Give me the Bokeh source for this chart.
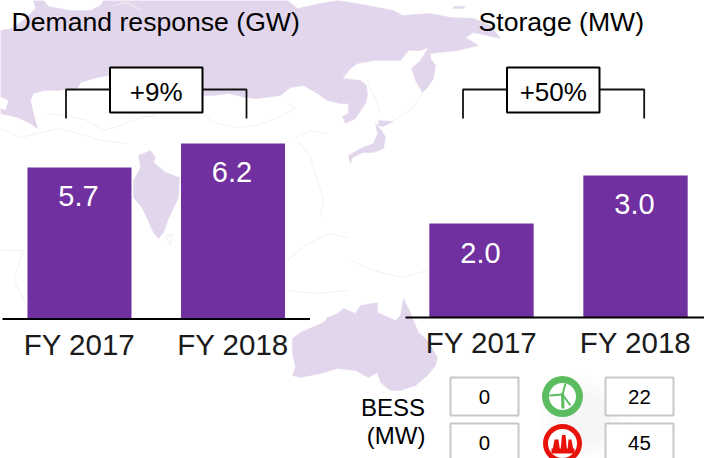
from bokeh.plotting import figure
from bokeh.embed import file_html
from bokeh.resources import INLINE
from bokeh.models import Range1d, ColumnDataSource
from bokeh.core.properties import value

# ---- data -----------------------------------------------------------------
years = ["FY 2017", "FY 2018"]
demand_gw = [5.7, 6.2]
storage_mw = [2.0, 3.0]
demand_labels = ["5.7", "6.2"]
storage_labels = ["2.0", "3.0"]
title_left = "Demand response (GW)"
title_right = "Storage (MW)"
growth_left = "+9%"
growth_right = "+50%"
bess_before = ["0", "0"]
bess_after = ["22", "45"]

# ---- traced background map, in picture pixels ------------------------------
russia_x = [0, 12, 25, 35, 33, 43, 48, 70, 90, 100, 103, 287, 297, 320, 337, 356, 393, 402, 430, 450, 473, 490,
            500, 473, 465, 478, 457, 430, 430, 435, 433, 427, 422, 415, 411, 420, 428, 420, 408, 400, 373, 357,
            350, 342, 360, 366, 367, 365, 355, 345, 342, 348, 348, 340, 327, 317, 303, 290, 280, 257, 245, 228,
            213, 203, 150, 108, 93, 80, 77, 57, 43, 33, 30, 33, 37, 30, 17, 0, 0, 5, 8, 0]
russia_y = [30, 28, 18, 8, 0, 0, 6, 10, 10, 5, 0, 0, 8, 3, 0, 3, 10, 15, 13, 17, 18, 25,
            38, 32, 37, 45, 50, 53, 58, 65, 78, 87, 92, 80, 68, 60, 47, 50, 50, 60, 60, 63,
            68, 78, 80, 85, 95, 103, 118, 123, 116, 113, 103, 103, 100, 93, 85, 87, 95, 98, 97, 93,
            95, 95, 90, 75, 78, 82, 88, 90, 90, 93, 100, 113, 128, 123, 117, 113, 108, 110, 100, 96]
india_x = [138, 150, 155, 153, 165, 179, 178, 168, 163, 158, 153, 142, 133, 133, 140]
india_y = [155, 150, 157, 162, 172, 177, 197, 218, 232, 238, 232, 208, 197, 180, 167]
australia_x = [292, 300, 323, 327, 337, 343, 355, 360, 377, 377, 395, 400, 403, 408, 412, 418, 427, 437, 435,
               427, 415, 400, 390, 380, 377, 368, 355, 337, 320, 300, 292, 295, 292]
australia_y = [338, 332, 322, 317, 313, 308, 313, 305, 302, 312, 320, 315, 298, 308, 318, 332, 340, 357, 365,
               375, 385, 390, 390, 382, 372, 377, 370, 368, 373, 377, 375, 367, 353]
honshu_x = [375, 382, 385, 383, 373, 363, 352, 350, 348, 360, 373, 377]
honshu_y = [123, 131, 137, 148, 152, 152, 157, 163, 155, 148, 143, 133]
hokkaido_x = [378, 393, 383, 378]
hokkaido_y = [120, 121, 126, 125]
island_x = [453, 465, 462, 453]
island_y = [6, 6, 8, 8]
border_xs = [[47, 67, 87, 103, 120, 140, 155], [0, 20, 40, 57, 75, 100, 127],
             [203, 213, 237, 257, 277, 295, 287], [295, 310, 327], [297, 310, 317, 323, 320],
             [287, 307, 330, 347], [287, 317, 347], [350, 373, 400, 427], [0, 23, 13, 27],
             [367, 377, 380], [422, 412, 393], [113, 125, 140], [165, 172, 170, 165]]
border_ys = [[113, 115, 120, 130, 125, 117, 115], [128, 137, 132, 128, 132, 140, 143],
             [113, 122, 127, 125, 117, 108, 103], [137, 130, 133], [140, 157, 180, 200, 217],
             [260, 243, 233, 237], [290, 293, 290], [260, 270, 277, 270], [250, 250, 280, 307],
             [80, 103, 113], [93, 108, 120], [5, 2, 9], [236, 234, 245, 236]]

FONT = value("Liberation Sans")
LAND = "#E2D6EC"
BAR = "#7030A0"

# ---- picture-pixel base scale, plus one value scale per panel --------------
W0, W1, H0, H1 = 0, 704, 0, 458
p = figure(width=W1 - W0, height=H1 - H0, x_range=Range1d(W0, W1), y_range=Range1d(H1, H0),
           output_backend="svg", toolbar_location=None, min_border=0,
           background_fill_color="white", outline_line_color=None)
p.axis.visible = False
p.grid.visible = False

PX_PER_UNIT = 48.0
def y_scale(ref_val, ref_px):
    return Range1d(ref_val + (ref_px - H1) / PX_PER_UNIT, ref_val + (ref_px - H0) / PX_PER_UNIT)
def x_scale(first, step):
    return Range1d((W0 - first) / step, (W1 - first) / step)

p.extra_y_ranges = {"left": y_scale(6.2, 143), "right": y_scale(3.0, 175)}
p.extra_x_ranges = {"left": x_scale(79, 153.5), "right": x_scale(481, 154)}

# map
p.patches([russia_x, india_x, australia_x, honshu_x, hokkaido_x, island_x],
          [russia_y, india_y, australia_y, honshu_y, hokkaido_y, island_y],
          fill_color=LAND, line_color=LAND, line_width=0.5)
p.multi_line(border_xs, border_ys, line_color="#F1F1F4", line_width=1)

# soft shadow behind the icons
for r, a in [(44, 0.008), (36, 0.012), (28, 0.014)]:
    p.circle(x=[582], y=[418], radius=r, fill_color="black", fill_alpha=a, line_color=None)

# bars
def panel(name, vals, labels, label_px, year_px, base_px, ref_val, ref_px, axis_from, axis_to):
    idx = list(range(len(vals)))
    base = ref_val + (ref_px - base_px) / PX_PER_UNIT
    src = ColumnDataSource(dict(i=idx, v=vals, b=[base] * len(vals), t=labels))
    p.vbar(x="i", top="v", bottom="b", width=104 / 153.5, source=src, x_range_name=name, y_range_name=name,
           fill_color=BAR, line_color=None)
    p.segment([axis_from], [base_px], [axis_to], [base_px], line_color="black", line_width=2)
    y_lab = [ref_val + (ref_px - q) / PX_PER_UNIT for q in label_px]
    y_yr = [ref_val + (ref_px - year_px) / PX_PER_UNIT] * len(vals)
    p.text(x=idx, y=y_lab, text=labels, x_range_name=name, y_range_name=name, text_font=FONT,
           text_font_size="29px", text_color="white", text_align="center", text_baseline="middle",
           x_offset=-1)
    p.text(x=idx, y=y_yr, text=years, x_range_name=name, y_range_name=name, text_font=FONT,
           text_font_size="29.5px", text_color="#1a1a1a", text_align="center", text_baseline="middle")

panel("left", demand_gw, demand_labels, [195.5, 171.5], 344, 318.5, 6.2, 143, 2, 309.5)
panel("right", storage_mw, storage_labels, [252.5, 203.5], 342, 317, 3.0, 175, 405, 704)

# brackets and growth boxes
def growth(label, x0, x1, bx0, bx1):
    p.line([x0, x0, bx0], [118, 89, 89], line_color="#111111", line_width=1.8)
    p.line([bx1, x1, x1], [89, 89, 118], line_color="#111111", line_width=1.8)
    p.quad(left=[bx0], right=[bx1], top=[67], bottom=[112], fill_color="white", line_color="black", line_width=2)
    p.text(x=[(bx0 + bx1) / 2], y=[91], text=[label], text_font=FONT, text_font_size="26px",
           text_color="black", text_align="center", text_baseline="middle")

growth(growth_left, 65.5, 246, 109.5, 202)
growth(growth_right, 462.5, 643.7, 506.5, 599)

# titles
p.text(x=[155.2, 560.8], y=[21, 21], text=[title_left, title_right], text_font=FONT, text_font_size="26.6px",
       text_color="black", text_align="center", text_baseline="middle")

# BESS table
p.text(x=[424.5, 425], y=[407, 435], text=["BESS", "(MW)"], text_font=FONT, text_font_size="24px",
       text_color="black", text_align="right", text_baseline="middle")
for col, labels, (xl, xr) in [("a", bess_before, (450, 518)), ("b", bess_after, (605, 673))]:
    p.quad(left=[xl, xl], right=[xr, xr], top=[377, 423], bottom=[415, 462], fill_color="white",
           line_color="#C8C8C8", line_width=2)
    p.text(x=[(xl + xr) / 2] * 2, y=[396, 442], text=labels, text_font=FONT, text_font_size="20.5px",
           text_color="black", text_align="center", text_baseline="middle")

# wind icon
GREEN = "#5CBC60"
p.circle(x=[562], y=[396], radius=20.5, fill_color=GREEN, line_color=None)
p.circle(x=[562], y=[396], radius=13.5, fill_color="white", line_color=None)
p.multi_line([[562, 549], [562, 565], [562, 570]], [[394, 395], [394, 383], [394, 405]],
             line_color=GREEN, line_width=2)
p.patch([560.5, 563.5, 564, 561], [395, 395, 408, 408], fill_color=GREEN, line_color=None)
p.circle(x=[562], y=[394], radius=1.8, fill_color=GREEN, line_color=None)

# power-plant icon
RED = "#E8120A"
p.circle(x=[562], y=[443], radius=19.5, fill_color=RED, line_color=None)
p.circle(x=[562], y=[443], radius=14.5, fill_color="white", line_color=None)
p.patches([[552, 554, 558, 559.5], [560, 561.5, 565, 566.5], [567, 568, 571, 573]],
          [[450, 439, 439, 450], [450, 434.5, 434.5, 450], [450, 439, 439, 450]],
          fill_color=RED, line_color=None)
p.quad(left=[551], right=[574], top=[448], bottom=[453], fill_color=RED, line_color=None)

open("out.html", "w").write(file_html(p, INLINE))
